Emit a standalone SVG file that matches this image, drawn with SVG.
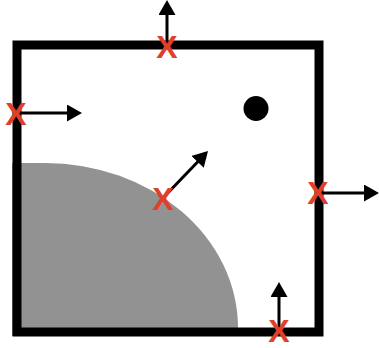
<svg xmlns="http://www.w3.org/2000/svg" width="379" height="348" viewBox="0 0 379 348">
<style>
.x{font-family:"Liberation Sans",Arial,sans-serif;font-weight:bold;font-size:32px;fill:#e0402a;text-anchor:middle}
.ln{stroke:#000;stroke-width:3;fill:none;marker-end:url(#ah)}
</style>
<defs>
<marker id="ah" markerUnits="userSpaceOnUse" markerWidth="16" markerHeight="18" refX="3" refY="8.5" orient="auto">
<path d="M0,0 L15,8.5 L0,17 Z" fill="#000"/>
</marker>
</defs>
<rect width="379" height="348" fill="#fff"/>
<g id="region">
<path d="M12,336 L12,163 L45,163 A193,165 0 0 1 238,328 L238,336 Z" fill="#929292"/>
</g>
<g id="box">
<rect x="17" y="45" width="302" height="287" fill="none" stroke="#000" stroke-width="9"/>
</g>
<g id="dot">
<circle cx="256" cy="108.5" r="12.5" fill="#000"/>
</g>
<g id="connectors">
<line class="ln" x1="167" y1="46" x2="167" y2="12"/>
<line class="ln" x1="16" y1="113" x2="70" y2="113"/>
<line class="ln" x1="163" y1="198" x2="199.7" y2="159.7"/>
<line class="ln" x1="319" y1="193" x2="367" y2="193"/>
<line class="ln" x1="279" y1="331" x2="279" y2="294"/>
</g>
<g id="x-top"><text class="x" x="167" y="57.5">X</text></g>
<g id="x-left"><text class="x" x="16" y="125">X</text></g>
<g id="x-center"><text class="x" x="163" y="210">X</text></g>
<g id="x-right"><text class="x" x="318" y="204">X</text></g>
<g id="x-bottom"><text class="x" x="279" y="342">X</text></g>
</svg>
